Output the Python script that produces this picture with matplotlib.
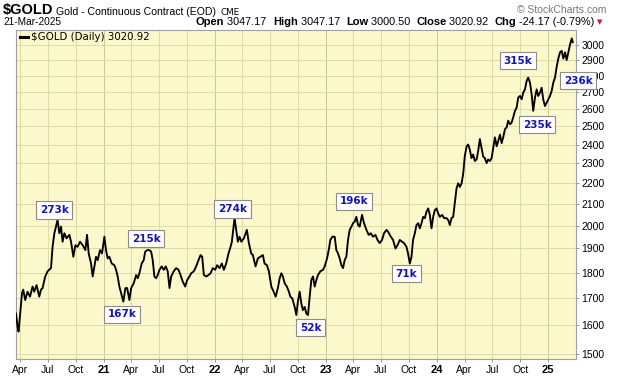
import numpy as np
import pandas as pd
import matplotlib
matplotlib.use("Agg")
import matplotlib.pyplot as plt
from matplotlib.ticker import FixedLocator, NullLocator, FixedFormatter
from matplotlib.lines import Line2D

# daily close of $GOLD (time as decimal year)
years = [
    2020.214, 2020.228, 2020.237, 2020.252, 2020.268, 2020.279, 2020.297, 2020.318, 2020.340, 2020.363,
    2020.378, 2020.399, 2020.423, 2020.439, 2020.453, 2020.477, 2020.498, 2020.529, 2020.543, 2020.559,
    2020.574, 2020.588, 2020.604, 2020.619, 2020.633, 2020.649, 2020.669, 2020.694, 2020.709, 2020.730,
    2020.748, 2020.768, 2020.790, 2020.814, 2020.838, 2020.853, 2020.868, 2020.889, 2020.904, 2020.919,
    2020.934, 2020.949, 2020.970, 2020.988,
    2021.009, 2021.024, 2021.039, 2021.054, 2021.075, 2021.099, 2021.114, 2021.129, 2021.144, 2021.168,
    2021.180, 2021.198, 2021.214, 2021.234, 2021.250, 2021.273, 2021.295, 2021.309, 2021.324, 2021.345,
    2021.363, 2021.376, 2021.394, 2021.414, 2021.430, 2021.444, 2021.459, 2021.475, 2021.489, 2021.505,
    2021.525, 2021.543, 2021.561, 2021.579, 2021.595, 2021.610, 2021.633, 2021.655, 2021.676, 2021.694,
    2021.714, 2021.736, 2021.754, 2021.775, 2021.790, 2021.814, 2021.835, 2021.856, 2021.874, 2021.889,
    2021.904, 2021.925, 2021.946, 2021.964, 2021.985,
    2022.006, 2022.024, 2022.045, 2022.066, 2022.084, 2022.105, 2022.126, 2022.144, 2022.156, 2022.168,
    2022.180, 2022.195, 2022.210, 2022.225, 2022.241, 2022.264, 2022.291, 2022.309, 2022.330, 2022.345,
    2022.369, 2022.390, 2022.412, 2022.435, 2022.450, 2022.471, 2022.489, 2022.511, 2022.532, 2022.550,
    2022.570, 2022.586, 2022.601, 2022.615, 2022.631, 2022.651, 2022.669, 2022.682, 2022.700, 2022.721,
    2022.736, 2022.750, 2022.766, 2022.781, 2022.795, 2022.811, 2022.826, 2022.841, 2022.856, 2022.871,
    2022.886, 2022.901, 2022.916, 2022.931, 2022.952, 2022.976, 2022.991,
    2023.012, 2023.030, 2023.042, 2023.060, 2023.081, 2023.096, 2023.111, 2023.126, 2023.141, 2023.156,
    2023.171, 2023.186, 2023.201, 2023.216, 2023.232, 2023.246, 2023.261, 2023.276, 2023.291, 2023.306,
    2023.327, 2023.345, 2023.367, 2023.387, 2023.405, 2023.426, 2023.448, 2023.466, 2023.486, 2023.507,
    2023.525, 2023.547, 2023.561, 2023.586, 2023.606, 2023.628, 2023.646, 2023.667, 2023.687, 2023.705,
    2023.727, 2023.741, 2023.757, 2023.772, 2023.786, 2023.802, 2023.817, 2023.832, 2023.847, 2023.862,
    2023.877, 2023.892, 2023.907, 2023.922, 2023.937, 2023.952, 2023.967, 2023.982, 2023.997,
    2024.012, 2024.027, 2024.048, 2024.066, 2024.087, 2024.102, 2024.117, 2024.132, 2024.147, 2024.162,
    2024.177, 2024.192, 2024.207, 2024.223, 2024.237, 2024.252, 2024.268, 2024.282, 2024.297, 2024.312,
    2024.327, 2024.342, 2024.358, 2024.372, 2024.387, 2024.403, 2024.417, 2024.432, 2024.448, 2024.462,
    2024.477, 2024.493, 2024.507, 2024.523, 2024.538, 2024.552, 2024.568, 2024.583, 2024.597, 2024.613,
    2024.628, 2024.642, 2024.658, 2024.673, 2024.687, 2024.703, 2024.718, 2024.732, 2024.748, 2024.763,
    2024.777, 2024.793, 2024.808, 2024.822, 2024.838, 2024.853, 2024.867, 2024.883, 2024.898, 2024.912,
    2024.928, 2024.943, 2024.957, 2024.973, 2024.988,
    2025.003, 2025.018, 2025.033, 2025.048, 2025.063, 2025.078, 2025.093, 2025.108, 2025.123, 2025.138,
    2025.153, 2025.168, 2025.183, 2025.198, 2025.214, 2025.223,
]
close = [
    1642, 1594, 1576, 1644, 1718, 1732, 1692, 1724, 1705, 1744,
    1724, 1750, 1705, 1732, 1738, 1784, 1805, 1818, 1907, 1966,
    1996, 2026, 1966, 1996, 1929, 1966, 1944, 1959, 1929, 1865,
    1914, 1907, 1929, 1914, 1893, 1959, 1879, 1837, 1784, 1825,
    1865, 1851, 1893, 1879,
    1951, 1893, 1858, 1865, 1837, 1830, 1811, 1784, 1744, 1705,
    1686, 1738, 1738, 1692, 1738, 1757, 1790, 1777, 1797, 1837,
    1851, 1886, 1893, 1893, 1886, 1851, 1784, 1777, 1790, 1811,
    1825, 1811, 1825, 1805, 1738, 1784, 1805, 1818, 1811, 1790,
    1764, 1744, 1770, 1784, 1797, 1805, 1825, 1851, 1872, 1865,
    1790, 1784, 1790, 1797, 1818,
    1811, 1830, 1818, 1837, 1811, 1837, 1879, 1907, 1929, 1981,
    2034, 1981, 1929, 1951, 1929, 1944, 1981, 1923, 1879, 1872,
    1825, 1858, 1865, 1872, 1837, 1830, 1805, 1744, 1724, 1705,
    1738, 1777, 1797, 1784, 1757, 1744, 1724, 1705, 1698, 1666,
    1636, 1686, 1724, 1679, 1654, 1666, 1642, 1636, 1705, 1770,
    1784, 1744, 1770, 1790, 1805, 1811, 1825,
    1858, 1900, 1937, 1951, 1951, 1893, 1879, 1858, 1830, 1818,
    1851, 1865, 1937, 1981, 1996, 2011, 2018, 2040, 2003, 1996,
    2049, 2011, 1981, 1959, 1966, 1951, 1959, 1937, 1923, 1937,
    1966, 1981, 1973, 1951, 1937, 1900, 1914, 1937, 1929, 1923,
    1907, 1879, 1837, 1865, 1937, 1966, 2003, 2011, 1988, 2011,
    2040, 2034, 2064, 2079, 2049, 1988, 2040, 2071, 2079,
    2056, 2040, 2049, 2034, 2034, 2026, 2003, 2034, 2040, 2105,
    2174, 2200, 2182, 2200, 2247, 2340, 2391, 2400, 2372, 2328,
    2347, 2313, 2321, 2366, 2430, 2381, 2336, 2328, 2302, 2321,
    2313, 2328, 2381, 2439, 2391, 2418, 2454, 2408, 2439, 2485,
    2494, 2532, 2512, 2522, 2551, 2589, 2608, 2667, 2677, 2657,
    2697, 2717, 2769, 2790, 2759, 2687, 2589, 2667, 2717, 2677,
    2697, 2727, 2657, 2617, 2637,
    2657, 2677, 2707, 2759, 2790, 2858, 2912, 2953, 2963, 2912,
    2953, 2902, 2953, 3004, 3047, 3021,
]

tick_dates = ["2020-04-01", "2020-07-01", "2020-10-01", "2021-01-01",
              "2021-04-01", "2021-07-01", "2021-10-01", "2022-01-01",
              "2022-04-01", "2022-07-01", "2022-10-01", "2023-01-01",
              "2023-04-01", "2023-07-01", "2023-10-01", "2024-01-01",
              "2024-04-01", "2024-07-01", "2024-10-01", "2025-01-01"]
tick_labels = ["Apr", "Jul", "Oct", "21", "Apr", "Jul", "Oct", "22",
               "Apr", "Jul", "Oct", "23", "Apr", "Jul", "Oct", "24",
               "Apr", "Jul", "Oct", "25"]
price_ticks = list(range(1500, 3001, 100))

# volume call-outs on the swing highs / lows
vol_text = ["273k", "167k", "215k", "274k", "52k", "196k", "71k", "315k", "235k", "236k"]
vol_pos = [(2020.559, 2072), (2021.171, 1638), (2021.385, 1942), (2022.162, 2076),
           (2022.865, 1590), (2023.257, 2112), (2023.723, 1795), (2024.728, 2897),
           (2024.903, 2510), (2025.270, 2771)]


def yr2date(y):
    y = np.asarray(y, dtype=float)
    return pd.Timestamp("2020-01-01") + pd.to_timedelta((y - 2020.0) * 365.25, unit="D")


W, H = 620, 376
bg = "#FBF8CB"
gridc = "#DEDBA6"
fig = plt.figure(figsize=(W / 100, H / 100), dpi=100)
fig.patch.set_facecolor("white")
ax = fig.add_axes([16 / W, 1 - 359 / H, (576 - 16) / W, (359 - 30) / H])
ax.set_facecolor(bg)

dates = yr2date(years)
ax.plot(dates, close, color="black", lw=1.35, zorder=3)

ax.set_xlim(yr2date(2020.214), yr2date(2025.252))
ax.set_yscale("log")
ax.set_ylim(1482, 3105)
ax.yaxis.set_major_locator(FixedLocator(price_ticks))
ax.yaxis.set_minor_locator(NullLocator())
ax.yaxis.set_major_formatter(FixedFormatter([str(p) for p in price_ticks]))
ax.yaxis.tick_right()

xt = pd.to_datetime(tick_dates)
ax.set_xticks(xt)
ax.set_xticklabels(tick_labels)
ax.xaxis.set_minor_locator(NullLocator())

ax.tick_params(axis="both", labelsize=7.5, length=2, width=0.6, color="#888888", pad=2)
for lab in ax.get_xticklabels():
    lab.set_family("Liberation Sans")
    if lab.get_text().isdigit():
        lab.set_fontweight("bold")
        lab.set_fontsize(8)
for lab in ax.get_yticklabels():
    lab.set_family("Liberation Sans")

ax.grid(True, color=gridc, lw=0.7, zorder=0)
for gl, lab in zip(ax.get_xgridlines(), tick_labels):
    if lab.isdigit():
        gl.set_color("#C9C69A")
for sp in ax.spines.values():
    sp.set_color("#A0A0A0")
    sp.set_linewidth(0.8)

for s, (yy, pp) in zip(vol_text, vol_pos):
    ax.text(yr2date(yy), pp, s, ha="center", va="center", fontsize=7.5,
            fontweight="bold", color="#1414B4", family="DejaVu Sans", zorder=6,
            clip_on=False,
            bbox=dict(boxstyle="square,pad=0.35", fc="white", ec="#8C8C8C", lw=0.8))

# legend line
ax.add_line(Line2D([4 / 560, 12 / 560], [1 - 7 / 329, 1 - 7 / 329], transform=ax.transAxes,
                   color="black", lw=2.2, zorder=5))
ax.text(15 / 560, 1 - 7 / 329, "$GOLD (Daily) 3020.92", transform=ax.transAxes,
        fontsize=7.4, family="DejaVu Sans", va="center", ha="left", zorder=5)


# header
def fx(x):
    return x / W


def fy(y):
    return 1 - y / H


t0 = fig.text(fx(3), fy(14), "$GOLD", fontsize=10.5, fontweight="bold",
              family="Liberation Sans", va="baseline")
t1 = ax.annotate("Gold - Continuous Contract (EOD)", xy=(1, 0), xycoords=t0, xytext=(2, 0),
                 textcoords="offset points", fontsize=7.6, family="Liberation Sans",
                 va="bottom", annotation_clip=False)
ax.annotate("CME", xy=(1, 0), xycoords=t1, xytext=(3, 0), textcoords="offset points",
            fontsize=6.3, family="DejaVu Sans", va="bottom", annotation_clip=False)
fig.text(fx(606), fy(13), "\u00a9 StockCharts.com", fontsize=7.5, color="#777777",
         family="Liberation Sans", ha="right", va="baseline")
fig.text(fx(3), fy(25), "21-Mar-2025", fontsize=7.3, family="Liberation Sans", va="baseline")

pieces = [("Open", True), (" 3047.17  ", False), ("High", True), (" 3047.17  ", False),
          ("Low", True), (" 3000.50  ", False), ("Close", True), (" 3020.92  ", False),
          ("Chg", True), (" -24.17 (-0.79%)", False)]
prev = fig.text(fx(196), fy(25), pieces[0][0], fontsize=8, fontweight="bold",
                family="Liberation Sans", va="baseline")
for s, b in pieces[1:]:
    prev = ax.annotate(s, xy=(1, 0), xycoords=prev, xytext=(0, 0), textcoords="offset points",
                       fontsize=8 if b else 7.8, fontweight="bold" if b else "normal",
                       family="Liberation Sans", va="bottom", annotation_clip=False)
ax.annotate("\u25bc", xy=(1, 0), xycoords=prev, xytext=(2, 1), textcoords="offset points",
            fontsize=5, color="#C0143C", family="DejaVu Sans", va="bottom", annotation_clip=False)

fig.savefig("out.png", dpi=100)
